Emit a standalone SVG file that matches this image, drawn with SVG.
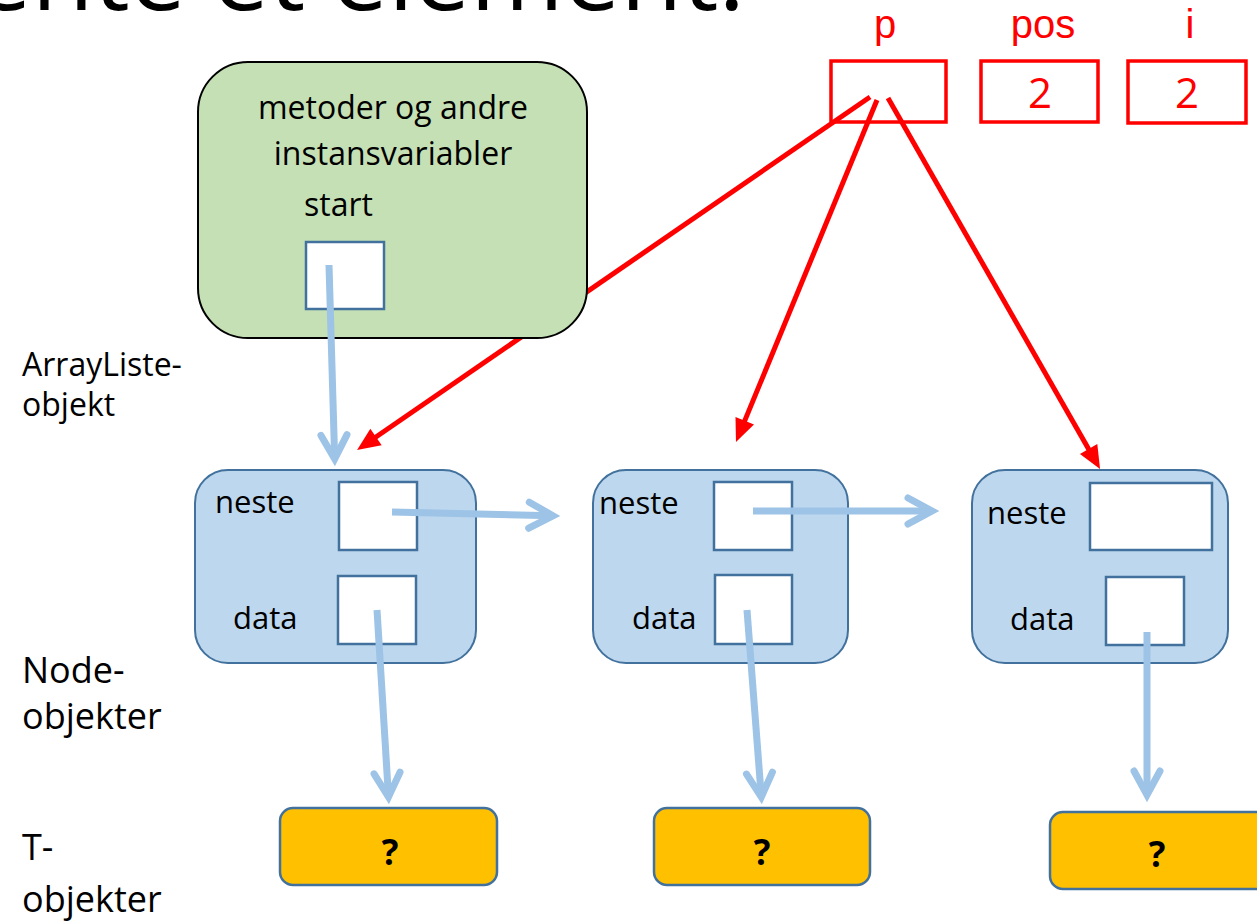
<svg xmlns="http://www.w3.org/2000/svg" width="1257" height="923" viewBox="0 0 1257 923">
<style>
.t{font-family:"Open Sans","Noto Sans","Liberation Sans",sans-serif;fill:#000}
.b{font-size:31px}
.lbl{font-size:36px}
.red{font-family:"Open Sans","Noto Sans","Liberation Sans",sans-serif;fill:#ff0000}
.rlab{font-family:"Liberation Sans","Open Sans",sans-serif;fill:#ff0000;font-size:40px}
.node{fill:#bdd7ee;stroke:#41719c;stroke-width:2}
.cell{fill:#fff;stroke:#41719c;stroke-width:2.5}
.tobj{fill:#ffc000;stroke:#41719c;stroke-width:2.5}
.q{font-size:35px;font-weight:bold}
.rbox{fill:none;stroke:#ff0000;stroke-width:3.5}
.rl{stroke:#ff0000;stroke-width:5;fill:none}
.bl{stroke:#9dc3e6;stroke-width:7;fill:none}
</style>
<defs>
<marker id="rh" markerUnits="userSpaceOnUse" viewBox="-10 -12 28 24" markerWidth="28" markerHeight="24" refX="0" refY="0" orient="auto">
<path d="M15,0 L-8,-10 L-8,10 Z" fill="#ff0000"/>
</marker>
<marker id="ch" markerUnits="userSpaceOnUse" viewBox="-30 -18 45 36" markerWidth="45" markerHeight="36" refX="0" refY="0" orient="auto">
<path d="M-24,-13 L0,0 L-24,13" fill="none" stroke="#9dc3e6" stroke-width="7" stroke-linecap="round" stroke-linejoin="miter"/>
</marker>
</defs>
<rect width="1257" height="923" fill="#fff"/>
<text class="t" x="-25" y="10" font-size="98" textLength="770" lengthAdjust="spacingAndGlyphs">ente et element.</text>

<g id="pointers">
<line class="rl" x1="870" y1="97" x2="369.4" y2="441.5" marker-end="url(#rh)"/>
<line class="rl" x1="877" y1="100" x2="741.7" y2="428.1" marker-end="url(#rh)"/>
<line class="rl" x1="888" y1="98" x2="1092.6" y2="456" marker-end="url(#rh)"/>
</g>

<g id="arrayliste">
<rect x="198" y="62" width="389" height="276" rx="50" fill="#c5e0b4" stroke="#000" stroke-width="2"/>
<text class="t" x="393" y="119" font-size="32" text-anchor="middle">metoder og andre</text>
<text class="t" x="393" y="165" font-size="32" text-anchor="middle">instansvariabler</text>
<text class="t" x="304" y="216" font-size="32">start</text>
<rect class="cell" x="306" y="242" width="78" height="67"/>
</g>

<g id="var-p">
<text class="rlab" x="885" y="38" text-anchor="middle">p</text>
<rect class="rbox" x="831" y="61" width="115" height="61"/>
</g>
<g id="var-pos">
<text class="rlab" x="1043" y="38" text-anchor="middle">pos</text>
<rect class="rbox" x="981" y="61" width="117" height="61"/>
<text class="red" x="1040" y="108" font-size="42" text-anchor="middle">2</text>
</g>
<g id="var-i">
<text class="rlab" x="1190" y="38" text-anchor="middle">i</text>
<rect class="rbox" x="1128" y="61" width="118" height="62" stroke-width="4"/>
<text class="red" x="1187" y="108" font-size="42" text-anchor="middle">2</text>
</g>

<g id="labels">
<text class="t" x="22" y="376" font-size="32">ArrayListe-</text>
<text class="t" x="22" y="416" font-size="32">objekt</text>
<text class="t lbl" x="22" y="683">Node-</text>
<text class="t lbl" x="22" y="729">objekter</text>
<text class="t lbl" x="22" y="860">T-</text>
<text class="t lbl" x="22" y="912">objekter</text>
</g>

<g id="node1">
<rect class="node" x="195" y="470" width="281" height="193" rx="33"/>
<text class="t b" x="215" y="513">neste</text>
<rect class="cell" x="339" y="482" width="78" height="68"/>
<text class="t b" x="233" y="629">data</text>
<rect class="cell" x="338" y="576" width="78" height="68"/>
</g>
<g id="node2">
<rect class="node" x="593" y="470" width="255" height="193" rx="33"/>
<text class="t b" x="599" y="514">neste</text>
<rect class="cell" x="714" y="482" width="78" height="68"/>
<text class="t b" x="632" y="629">data</text>
<rect class="cell" x="715" y="575" width="77" height="69"/>
</g>
<g id="node3">
<rect class="node" x="972" y="470" width="256" height="193" rx="33"/>
<text class="t b" x="987" y="524">neste</text>
<rect class="cell" x="1090" y="483" width="122" height="67"/>
<text class="t b" x="1010" y="630">data</text>
<rect class="cell" x="1106" y="577" width="78" height="68"/>
</g>

<g id="tobj1">
<rect class="tobj" x="280" y="808" width="217" height="77" rx="13"/>
<text class="t q" x="390" y="865" text-anchor="middle">?</text>
</g>
<g id="tobj2">
<rect class="tobj" x="654" y="808" width="216" height="77" rx="13"/>
<text class="t q" x="762" y="865" text-anchor="middle">?</text>
</g>
<g id="tobj3">
<rect class="tobj" x="1050" y="812" width="230" height="77" rx="13"/>
<text class="t q" x="1157" y="867" text-anchor="middle">?</text>
</g>

<g id="links">
<line class="bl" x1="329" y1="265" x2="334.7" y2="459" marker-end="url(#ch)"/>
<line class="bl" x1="392" y1="512" x2="553" y2="515.8" marker-end="url(#ch)"/>
<line class="bl" x1="753" y1="511" x2="932" y2="511" marker-end="url(#ch)"/>
<line class="bl" x1="377" y1="610" x2="388.5" y2="797" marker-end="url(#ch)"/>
<line class="bl" x1="747" y1="610" x2="761.3" y2="797" marker-end="url(#ch)"/>
<line class="bl" x1="1147" y1="632" x2="1147" y2="795" marker-end="url(#ch)"/>
</g>
</svg>
